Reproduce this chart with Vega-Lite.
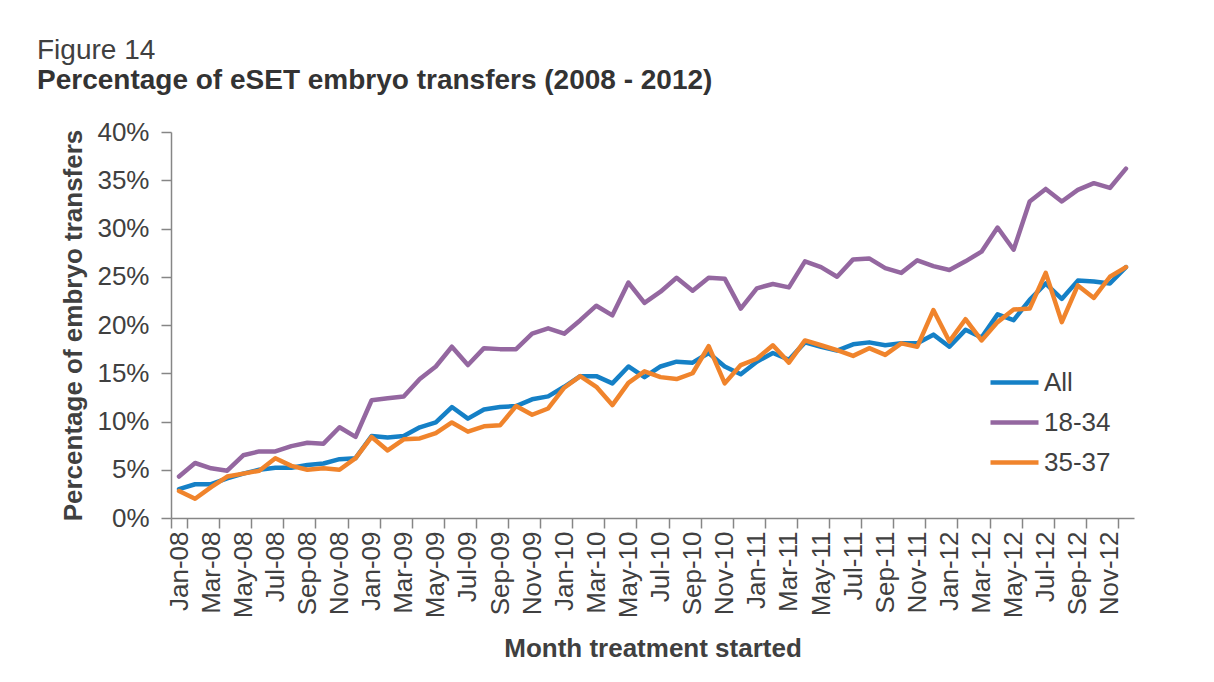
{
  "$schema": "https://vega.github.io/schema/vega-lite/v6.json",
  "width": 963,
  "height": 386,
  "autosize": {"type": "none"},
  "padding": {"left": 171, "top": 132, "right": 80, "bottom": 164},
  "background": "white",
  "title": {
    "text": "Figure 14",
    "subtitle": "Percentage of eSET embryo transfers (2008 - 2012)",
    "anchor": "start",
    "frame": "group",
    "dx": -134,
    "offset": 24,
    "font": "Liberation Sans",
    "fontSize": 28,
    "fontWeight": "normal",
    "color": "#404040",
    "subtitleFont": "Liberation Sans",
    "subtitleFontSize": 28,
    "subtitleFontWeight": "bold",
    "subtitleColor": "#333333",
    "subtitlePadding": 2
  },
  "data": {
    "values": [
      {"month": "Jan-08", "All": 3.0, "18-34": 4.3, "35-37": 2.8},
      {"month": "Feb-08", "All": 3.5, "18-34": 5.7, "35-37": 2.0},
      {"month": "Mar-08", "All": 3.5, "18-34": 5.15, "35-37": 3.2},
      {"month": "Apr-08", "All": 4.1, "18-34": 4.9, "35-37": 4.3},
      {"month": "May-08", "All": 4.6, "18-34": 6.5, "35-37": 4.6},
      {"month": "Jun-08", "All": 5.0, "18-34": 6.9, "35-37": 4.9},
      {"month": "Jul-08", "All": 5.2, "18-34": 6.9, "35-37": 6.2},
      {"month": "Aug-08", "All": 5.2, "18-34": 7.45, "35-37": 5.4},
      {"month": "Sep-08", "All": 5.5, "18-34": 7.8, "35-37": 5.0},
      {"month": "Oct-08", "All": 5.65, "18-34": 7.7, "35-37": 5.15},
      {"month": "Nov-08", "All": 6.1, "18-34": 9.4, "35-37": 5.0},
      {"month": "Dec-08", "All": 6.2, "18-34": 8.4, "35-37": 6.2},
      {"month": "Jan-09", "All": 8.5, "18-34": 12.2, "35-37": 8.4},
      {"month": "Feb-09", "All": 8.35, "18-34": 12.4, "35-37": 7.0},
      {"month": "Mar-09", "All": 8.5, "18-34": 12.6, "35-37": 8.15},
      {"month": "Apr-09", "All": 9.4, "18-34": 14.4, "35-37": 8.25},
      {"month": "May-09", "All": 9.9, "18-34": 15.7, "35-37": 8.8},
      {"month": "Jun-09", "All": 11.5, "18-34": 17.75, "35-37": 9.9},
      {"month": "Jul-09", "All": 10.3, "18-34": 15.85, "35-37": 8.95},
      {"month": "Aug-09", "All": 11.25, "18-34": 17.6, "35-37": 9.5},
      {"month": "Sep-09", "All": 11.5, "18-34": 17.5, "35-37": 9.6},
      {"month": "Oct-09", "All": 11.6, "18-34": 17.5, "35-37": 11.6},
      {"month": "Nov-09", "All": 12.3, "18-34": 19.1, "35-37": 10.7},
      {"month": "Dec-09", "All": 12.6, "18-34": 19.65, "35-37": 11.35},
      {"month": "Jan-10", "All": 13.6, "18-34": 19.1, "35-37": 13.5},
      {"month": "Feb-10", "All": 14.7, "18-34": 20.5, "35-37": 14.7},
      {"month": "Mar-10", "All": 14.7, "18-34": 22.0, "35-37": 13.6},
      {"month": "Apr-10", "All": 13.95, "18-34": 21.0, "35-37": 11.7},
      {"month": "May-10", "All": 15.7, "18-34": 24.4, "35-37": 14.0},
      {"month": "Jun-10", "All": 14.6, "18-34": 22.3, "35-37": 15.2},
      {"month": "Jul-10", "All": 15.7, "18-34": 23.45, "35-37": 14.6},
      {"month": "Aug-10", "All": 16.2, "18-34": 24.9, "35-37": 14.4},
      {"month": "Sep-10", "All": 16.1, "18-34": 23.55, "35-37": 15.0},
      {"month": "Oct-10", "All": 17.1, "18-34": 24.9, "35-37": 17.8},
      {"month": "Nov-10", "All": 15.7, "18-34": 24.8, "35-37": 13.95},
      {"month": "Dec-10", "All": 14.9, "18-34": 21.7, "35-37": 15.85},
      {"month": "Jan-11", "All": 16.2, "18-34": 23.8, "35-37": 16.5},
      {"month": "Feb-11", "All": 17.1, "18-34": 24.25, "35-37": 17.9},
      {"month": "Mar-11", "All": 16.4, "18-34": 23.9, "35-37": 16.1},
      {"month": "Apr-11", "All": 18.2, "18-34": 26.6, "35-37": 18.4},
      {"month": "May-11", "All": 17.75, "18-34": 26.0, "35-37": 17.9},
      {"month": "Jun-11", "All": 17.35, "18-34": 25.0, "35-37": 17.4},
      {"month": "Jul-11", "All": 18.0, "18-34": 26.8, "35-37": 16.8},
      {"month": "Aug-11", "All": 18.2, "18-34": 26.9, "35-37": 17.6},
      {"month": "Sep-11", "All": 17.9, "18-34": 25.9, "35-37": 16.9},
      {"month": "Oct-11", "All": 18.1, "18-34": 25.4, "35-37": 18.1},
      {"month": "Nov-11", "All": 18.1, "18-34": 26.7, "35-37": 17.75},
      {"month": "Dec-11", "All": 19.0, "18-34": 26.1, "35-37": 21.55},
      {"month": "Jan-12", "All": 17.75, "18-34": 25.7, "35-37": 18.3},
      {"month": "Feb-12", "All": 19.5, "18-34": 26.6, "35-37": 20.6},
      {"month": "Mar-12", "All": 18.7, "18-34": 27.6, "35-37": 18.4},
      {"month": "Apr-12", "All": 21.1, "18-34": 30.1, "35-37": 20.3},
      {"month": "May-12", "All": 20.5, "18-34": 27.8, "35-37": 21.6},
      {"month": "Jun-12", "All": 22.6, "18-34": 32.8, "35-37": 21.7},
      {"month": "Jul-12", "All": 24.3, "18-34": 34.1, "35-37": 25.4},
      {"month": "Aug-12", "All": 22.7, "18-34": 32.8, "35-37": 20.3},
      {"month": "Sep-12", "All": 24.6, "18-34": 34.0, "35-37": 24.1},
      {"month": "Oct-12", "All": 24.5, "18-34": 34.7, "35-37": 22.8},
      {"month": "Nov-12", "All": 24.3, "18-34": 34.2, "35-37": 25.0},
      {"month": "Dec-12", "All": 26.0, "18-34": 36.2, "35-37": 26.0}
    ]
  },
  "transform": [{"fold": ["All", "18-34", "35-37"], "as": ["series", "value"]}],
  "mark": {"type": "line", "strokeWidth": 4.5, "strokeJoin": "round", "strokeCap": "round"},
  "encoding": {
    "x": {
      "field": "month",
      "type": "ordinal",
      "sort": null,
      "scale": {"type": "band", "paddingInner": 0, "paddingOuter": 0},
      "axis": {
        "title": "Month treatment started",
        "values": ["Jan-08", "Mar-08", "May-08", "Jul-08", "Sep-08", "Nov-08", "Jan-09", "Mar-09", "May-09", "Jul-09", "Sep-09", "Nov-09", "Jan-10", "Mar-10", "May-10", "Jul-10", "Sep-10", "Nov-10", "Jan-11", "Mar-11", "May-11", "Jul-11", "Sep-11", "Nov-11", "Jan-12", "Mar-12", "May-12", "Jul-12", "Sep-12", "Nov-12"],
        "tickBand": "extent",
        "labelAngle": -90,
        "labelAlign": "right",
        "labelBaseline": "middle",
        "labelOverlap": false,
        "labelFont": "Liberation Sans",
        "labelFontSize": 26,
        "labelColor": "#404040",
        "labelPadding": 3,
        "tickSize": 10,
        "tickColor": "#868686",
        "tickWidth": 1.5,
        "domainColor": "#868686",
        "domainWidth": 1.5,
        "titleFont": "Liberation Sans",
        "titleFontSize": 26,
        "titleFontWeight": "bold",
        "titleColor": "#404040",
        "titlePadding": 18
      }
    },
    "y": {
      "field": "value",
      "type": "quantitative",
      "scale": {"domain": [0, 40]},
      "axis": {
        "title": "Percentage of embryo transfers",
        "values": [0, 5, 10, 15, 20, 25, 30, 35, 40],
        "labelExpr": "datum.value + '%'",
        "grid": false,
        "labelFont": "Liberation Sans",
        "labelFontSize": 26,
        "labelColor": "#404040",
        "labelPadding": 12,
        "tickSize": 10,
        "tickColor": "#868686",
        "tickWidth": 1.5,
        "domainColor": "#868686",
        "domainWidth": 1.5,
        "titleFont": "Liberation Sans",
        "titleFontSize": 26,
        "titleFontWeight": "bold",
        "titleColor": "#404040",
        "titlePadding": 10
      }
    },
    "color": {
      "field": "series",
      "type": "nominal",
      "scale": {"domain": ["All", "18-34", "35-37"], "range": ["#1580C6", "#9467A0", "#F0842C"]},
      "legend": {
        "title": null,
        "orient": "none",
        "legendX": 817,
        "legendY": 224,
        "padding": 0,
        "symbolType": "stroke",
        "symbolSize": 2304,
        "symbolStrokeWidth": 4.5,
        "rowPadding": 0,
        "labelOffset": 3,
        "labelFont": "Liberation Sans",
        "labelFontSize": 26,
        "labelColor": "#404040"
      }
    }
  },
  "config": {"view": {"stroke": null}, "font": "Liberation Sans"}
}
